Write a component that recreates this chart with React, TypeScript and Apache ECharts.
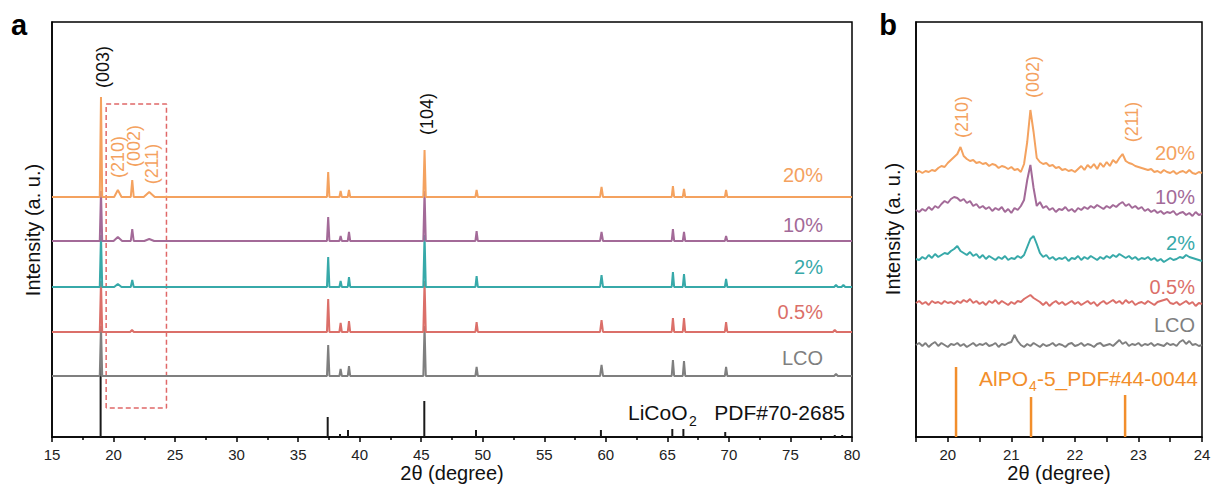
import React, { useEffect, useRef } from "react";
import * as echarts from "echarts";

const FONT = '"Liberation Sans", Arial, Helvetica, sans-serif';

// ---------- styles ----------
const COLORS = ["#7f7f7f", "#db6f69", "#37a9a9", "#a36a98", "#f4a25f"];
const REF_DARK = "#1a1a1a";
const REF_ORANGE = "#f28e2b";
const BOX_COLOR = "#e06868";

// ---------- data ----------
const sampleNames = ["LCO", "0.5%", "2%", "10%", "20%"];

// panel a: stacking offsets (a.u.)
const offsetsA = [61, 105, 150, 196, 240];
// panel b: stacking offsets (a.u.)
const offsetsB = [92, 134, 178, 227, 265];

// panel a peaks: [2θ, height, half-width]
const peaksA_LCO: number[][] = [
  [18.98, 50, 0.1], [37.44, 31, 0.1], [38.45, 7, 0.1], [39.13, 10, 0.1], [45.27, 50, 0.1],
  [49.5, 9, 0.1], [59.65, 11, 0.12], [65.45, 16, 0.1], [66.35, 15, 0.1], [69.77, 9, 0.1], [78.7, 2, 0.15],
];
const peaksA_05: number[][] = [
  [18.98, 51, 0.1], [21.5, 2, 0.15], [37.44, 33, 0.1], [38.45, 9, 0.1], [39.13, 11, 0.1], [45.27, 51, 0.1],
  [49.5, 10, 0.1], [59.65, 12, 0.12], [65.45, 14, 0.1], [66.35, 14, 0.1], [69.77, 10, 0.1], [78.6, 2, 0.15],
];
const peaksA_2: number[][] = [
  [18.98, 52, 0.1], [20.35, 3, 0.3], [21.52, 7, 0.12], [37.44, 30, 0.1], [38.45, 6, 0.1], [39.13, 10, 0.1],
  [45.27, 52, 0.1], [49.5, 11, 0.1], [59.65, 12, 0.12], [65.45, 15, 0.1], [66.35, 13, 0.1], [69.77, 8, 0.1],
  [78.7, 2, 0.15], [79.3, 2, 0.15],
];
const peaksA_10: number[][] = [
  [18.98, 50, 0.1], [20.35, 4, 0.35], [21.52, 12, 0.12], [22.9, 2, 0.4], [37.44, 24, 0.1], [38.45, 5, 0.1],
  [39.13, 9, 0.1], [45.27, 50, 0.1], [49.5, 10, 0.1], [59.65, 9, 0.12], [65.45, 12, 0.1], [66.35, 9, 0.1],
  [69.77, 5, 0.1],
];
const peaksA_20: number[][] = [
  [18.98, 100, 0.1], [20.35, 7, 0.3], [21.52, 17, 0.12], [22.9, 5, 0.45], [37.44, 25, 0.1], [38.45, 6, 0.1],
  [39.13, 7, 0.1], [45.27, 47, 0.1], [49.5, 7, 0.1], [59.65, 10, 0.12], [65.45, 11, 0.1], [66.35, 8, 0.1],
  [69.77, 7, 0.1],
];
const peaksA = [peaksA_LCO, peaksA_05, peaksA_2, peaksA_10, peaksA_20];

// LiCoO2 PDF#70-2685 reference lines
const refLiCoO2Pos = [18.95, 37.4, 38.4, 39.05, 45.25, 49.45, 59.6, 65.4, 66.3, 69.7, 78.6, 79.2];
const refLiCoO2Int = [70, 20, 3, 7, 36, 7, 7, 8, 8, 5, 2, 2];

// AlPO4-5 PDF#44-0044 reference lines
const refAlPO4Pos = [20.13, 21.31, 22.79];
const refAlPO4Int = [70, 40, 42];

// zoom box in panel a
const zoomBoxX = [19.4, 24.3];
const zoomBoxY = [29, 333];

// panel b: measured profiles from 19.5 to 24.0, step 0.05 (relative to offset)
const zoomStart = 19.5;
const zoomStep = 0.05;
const zoomLCO = [
  0, 2, -1, 2, -2, 1, 3, -1, 2, 0, -2, 1, 0, 2, -1, 1, -2, 0, 2, -1,
  1, 0, 2, -1, 0, 2, -2, 1, 0, 2, 3, 10, 4, 0, -2, 1, -1, 2, 0, -2,
  1, -1, 0, 2, -1, 1, 0, -2, 1, 2, -1, 0, 2, -1, 1, 0, -2, 1, 2, -1,
  0, 1, -1, 2, 5, 1, 3, -1, 1, 0, 2, -1, 1, 0, 2, -1, 1, 0, -1, 2,
  0, 1, -1, 3, 5, 1, 4, 0, 1, -1, 0,
];
const zoom05 = [
  0, 2, -1, 1, -2, 2, 0, 1, -1, 2, 0, 1, -1, 2, 0, 3, 1, 4, 0, 2,
  -1, 1, -2, 2, 0, 3, -1, 2, 0, -2, 1, -1, 2, 1, 4, 6, 8, 5, 3, 1,
  -2, 1, -3, 0, 2, -1, 1, -2, 0, 2, -1, 1, -2, 0, 2, -1, 1, -3, 0, 2,
  -1, 1, 3, 0, 2, -1, 3, 0, 2, -2, 0, 1, -1, 2, 0, -2, 1, 2, 3, 4,
  0, -1, 1, -2, 0, 2, -1, 1, -3, 0, -1,
];
const zoom2 = [
  0, -1, 2, 0, 4, 1, 5, 2, 4, 6, 5, 8, 10, 13, 8, 6, 4, 7, 3, 5,
  1, 4, 0, 3, 1, -1, 2, 0, 3, -1, 1, 0, 3, 1, 4, 12, 20, 23, 15, 6,
  2, 4, 0, 2, -1, 1, 0, 2, -2, 1, 0, 3, -1, 2, 0, 3, 1, -1, 2, 0,
  3, 1, 4, 2, 5, 3, 1, 3, 0, 2, -1, 1, 0, 2, -1, 1, -2, 0, -3, -1,
  1, -1, 0, 2, 1, 4, 2, 1, 0, -1, -2,
];
const zoom10 = [
  0, -2, 1, -1, 3, 0, 4, 2, 6, 9, 7, 11, 13, 12, 9, 11, 7, 9, 4, 6,
  2, 4, 1, 3, -1, 2, 0, 3, -2, 1, -3, 2, 0, 4, 10, 30, 45, 22, 4, 8,
  2, 4, 0, 2, -2, 1, 0, 3, -1, 1, -2, 2, 0, 3, 1, 4, 2, 5, 3, 1,
  4, 2, 5, 3, 6, 8, 4, 6, 2, 4, 1, 3, -1, 1, -2, 0, -3, -1, -4, -2,
  -3, -1, -5, -3, -2, -5, -3, -6, -2, -5, -4,
];
const zoom20 = [
  0, 1, -1, 1, 0, 2, 1, 4, 6, 5, 9, 12, 15, 18, 25, 16, 13, 11, 12, 9,
  10, 8, 9, 6, 8, 7, 4, 6, 5, 3, 5, 2, 3, 0, 8, 30, 62, 40, 14, 10,
  8, 9, 6, 7, 4, 5, 2, 3, 1, 2, 0, 3, 6, 2, 7, 4, 8, 3, 9, 5,
  10, 6, 12, 9, 14, 18, 11, 9, 8, 6, 5, 4, 3, 2, 3, 0, 1, -1, 2, 0,
  -1, 1, -2, 0, 1, -1, 2, -1, -2, 0, -1,
];
const zoomProfiles = [zoomLCO, zoom05, zoom2, zoom10, zoom20];

// ---------- build ----------
function buildPattern(base: number, peaks: number[][]) {
  const pts: number[][] = [[15, base]];
  [...peaks].sort((a, b) => a[0] - b[0]).forEach(([x, h, w]) => {
    pts.push([x - w, base], [x, base + h], [x + w, base]);
  });
  pts.push([80, base]);
  return pts;
}

function buildZoom(base: number, vals: number[]) {
  return vals.map((v, i) => [+(zoomStart + i * zoomStep).toFixed(2), base + v]);
}

function txt(x: number, y: number, text: string, color: string, size: number, align = "center", rotate = false, bold = false, lineHeight?: number) {
  return {
    type: "text",
    x,
    y,
    rotation: rotate ? Math.PI / 2 : 0,
    silent: true,
    style: {
      text,
      fill: color,
      fontSize: size,
      fontFamily: FONT,
      fontWeight: bold ? "bold" : "normal",
      textAlign: align,
      textVerticalAlign: "middle",
      lineHeight: lineHeight,
    },
  };
}

const axisLineStyle = { color: "#000", width: 1.5 };

function xAxisCfg(grid: number, min: number, max: number, interval: number, minor: boolean, fmt?: (v: number) => string) {
  return {
    type: "value",
    gridIndex: grid,
    min,
    max,
    interval,
    axisLine: { show: true, onZero: false, lineStyle: axisLineStyle },
    axisTick: { show: true, inside: false, length: 5, lineStyle: axisLineStyle },
    minorTick: { show: minor, splitNumber: 2, length: 3, lineStyle: axisLineStyle },
    axisLabel: { color: "#222", fontSize: 15, lineHeight: 14, fontFamily: FONT, margin: 10, formatter: fmt },
    splitLine: { show: false },
    minorSplitLine: { show: false },
  };
}

function yAxisCfg(grid: number) {
  return {
    type: "value",
    gridIndex: grid,
    min: 0,
    max: 415,
    axisLine: { show: true, onZero: false, lineStyle: axisLineStyle },
    axisTick: { show: false },
    axisLabel: { show: false },
    splitLine: { show: false },
  };
}

function buildOption() {
  const series: any[] = [];
  series.push({
    type: "bar",
    xAxisIndex: 0,
    yAxisIndex: 0,
    barWidth: 2,
    itemStyle: { color: REF_DARK },
    data: refLiCoO2Pos.map((x, i) => [x, refLiCoO2Int[i]]),
  });
  series.push({
    type: "line",
    xAxisIndex: 0,
    yAxisIndex: 0,
    symbol: "none",
    lineStyle: { color: BOX_COLOR, width: 1.5, type: [5, 3] },
    data: [
      [zoomBoxX[0], zoomBoxY[0]], [zoomBoxX[0], zoomBoxY[1]], [zoomBoxX[1], zoomBoxY[1]],
      [zoomBoxX[1], zoomBoxY[0]], [zoomBoxX[0], zoomBoxY[0]],
    ],
  });
  sampleNames.forEach((name, i) => {
    series.push({
      type: "line",
      name,
      xAxisIndex: 0,
      yAxisIndex: 0,
      symbol: "none",
      lineStyle: { color: COLORS[i], width: 2 },
      data: buildPattern(offsetsA[i], peaksA[i]),
    });
  });
  series.push({
    type: "bar",
    xAxisIndex: 1,
    yAxisIndex: 1,
    barWidth: 2.5,
    itemStyle: { color: REF_ORANGE },
    data: refAlPO4Pos.map((x, i) => [x, refAlPO4Int[i]]),
  });
  sampleNames.forEach((name, i) => {
    series.push({
      type: "line",
      name: name + " zoom",
      xAxisIndex: 1,
      yAxisIndex: 1,
      symbol: "none",
      lineStyle: { color: COLORS[i], width: 2 },
      data: buildZoom(offsetsB[i], zoomProfiles[i]),
    });
  });

  const labelYA = [358, 312, 267, 225, 175];
  const labelYB = [325, 287, 243, 197, 153];

  const graphic: any[] = [
    txt(19, 25, "a", "#000", 29, "center", false, true),
    txt(888, 25, "b", "#000", 29, "center", false, true),
    txt(33, 230, "Intensity (a. u.)", "#111", 20, "center", true),
    txt(893, 229, "Intensity (a. u.)", "#111", 20, "center", true),
    txt(452, 473, "2θ (degree)", "#111", 20, "center", false, false, 16),
    txt(1059, 473, "2θ (degree)", "#111", 20, "center", false, false, 16),
    txt(103, 67, "(003)", "#111", 18, "center", true),
    txt(427, 114, "(104)", "#111", 18, "center", true),
    txt(118, 157, "(210)", COLORS[4], 18, "center", true),
    txt(134, 146, "(002)", COLORS[4], 18, "center", true),
    txt(152, 164, "(211)", COLORS[4], 18, "center", true),
    txt(962, 117, "(210)", COLORS[4], 18, "center", true),
    txt(1033, 77, "(002)", COLORS[4], 18, "center", true),
    txt(1132, 122, "(211)", COLORS[4], 18, "center", true),
    txt(628, 412, "LiCoO", "#111", 21, "left"),
    txt(689, 421, "2", "#111", 14, "left"),
    txt(845, 412, "PDF#70-2685", "#111", 21, "right"),
    txt(979, 378, "AlPO", REF_ORANGE, 21, "left"),
    txt(1029, 386, "4", REF_ORANGE, 14, "left"),
    txt(1198, 378, "-5_PDF#44-0044", REF_ORANGE, 21, "right"),
  ];
  sampleNames.forEach((name, i) => {
    graphic.push(txt(823, labelYA[i], name, COLORS[i], 20, "right"));
    graphic.push(txt(1195, labelYB[i], name, COLORS[i], 20, "right"));
  });

  return {
    animation: false,
    backgroundColor: "#fff",
    grid: [
      { left: 52, top: 22, width: 800, height: 415, show: true, borderColor: "#000", borderWidth: 1.5, outerBoundsMode: "none", containLabel: false },
      { left: 916, top: 22, width: 286, height: 415, show: true, borderColor: "#000", borderWidth: 1.5, outerBoundsMode: "none", containLabel: false },
    ],
    xAxis: [
      xAxisCfg(0, 15, 80, 5, true),
      xAxisCfg(1, 19.5, 24, 0.5, false, (v: number) => (Math.abs(v - Math.round(v)) < 1e-6 ? String(Math.round(v)) : "")),
    ],
    yAxis: [yAxisCfg(0), yAxisCfg(1)],
    series,
    graphic,
  };
}

export default function App() {
  const ref = useRef<HTMLDivElement>(null);
  useEffect(() => {
    if (!ref.current) return;
    const chart = echarts.init(ref.current, null, { renderer: "svg" });
    chart.setOption(buildOption() as any);
    return () => chart.dispose();
  }, []);
  return (
    <div
      ref={ref}
      style={{ position: "fixed", left: 0, top: 0, width: 1212, height: 485, background: "#fff" }}
    />
  );
}
